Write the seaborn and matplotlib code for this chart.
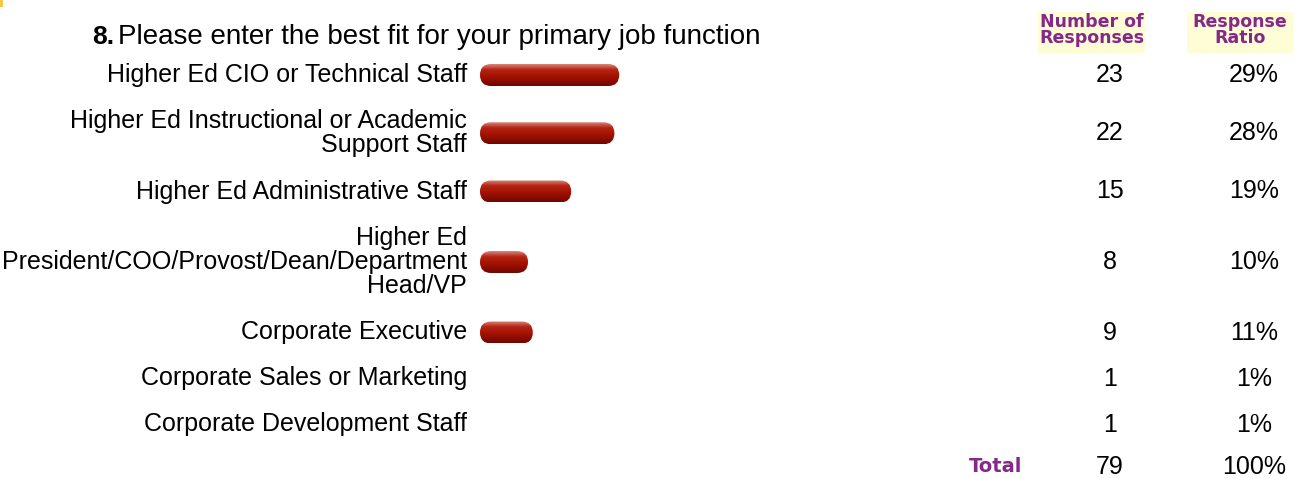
import numpy as np
import pandas as pd
import matplotlib
matplotlib.use('Agg')
import matplotlib.pyplot as plt
from matplotlib.patches import FancyBboxPatch
from matplotlib.colors import LinearSegmentedColormap
import seaborn as sns

# survey data
labels = ['Higher Ed CIO or Technical Staff',
          'Higher Ed Instructional or Academic\nSupport Staff',
          'Higher Ed Administrative Staff',
          'Higher Ed\nPresident/COO/Provost/Dean/Department\nHead/VP',
          'Corporate Executive',
          'Corporate Sales or Marketing',
          'Corporate Development Staff']
counts = [23, 22, 15, 8, 9, 1, 1]
ratios = [29, 28, 19, 10, 11, 1, 1]
total_count = 79
total_ratio = '100%'
question = 'Please enter the best fit for your primary job function'
qnum = '8.'

sns.set_theme(style='white')
plt.rcParams['font.family'] = ['Liberation Sans', 'DejaVu Sans']

W, H = 1301, 479
fig = plt.figure(figsize=(W / 100, H / 100), dpi=100)

# background axes in pixel units, for all the text
bg = fig.add_axes([0, 0, 1, 1])
bg.set_xlim(0, W)
bg.set_ylim(H, 0)
bg.axis('off')

# row layout: height depends on how many lines the label has
n_lines = [l.count('\n') + 1 for l in labels]
row_h = [21.5 + 24.5 * n for n in n_lines]
top = 52
ypos = []
acc = top
for h in row_h:
    ypos.append(acc + h / 2)
    acc += h
total_y = acc + 19

df = pd.DataFrame({'label': labels, 'ratio': ratios, 'y': ypos})

# bar axes: x in percent, y in pixels
px_per_pct = 4.8
x0, x1 = 480, 1010
ax = fig.add_axes([x0 / W, 0, (x1 - x0) / W, 1])
sns.barplot(data=df, x='ratio', y='y', orient='h', native_scale=True,
            errorbar=None, color='#a31405', ax=ax)
ax.axis('off')

grad = LinearSegmentedColormap.from_list(
    'barshade', [(0, '#d9867c'), (0.25, '#b52414'), (0.55, '#a51200'), (1, '#700700')])
bar_h = 22
r_px = 11
rs = r_px / px_per_pct
for p in list(ax.patches):
    w = p.get_width()
    yc = p.get_y() + p.get_height() / 2
    p.set_visible(False)
    if w * px_per_pct < bar_h:
        continue
    shape = FancyBboxPatch((0, yc - bar_h / 2), w, bar_h,
                           boxstyle=f'round,pad=0,rounding_size={rs}',
                           mutation_aspect=px_per_pct, fc='none', ec='none')
    ax.add_patch(shape)
    im = ax.imshow(np.linspace(0, 1, 64).reshape(-1, 1), cmap=grad, aspect='auto',
                   extent=(0, w, yc + bar_h / 2, yc - bar_h / 2), interpolation='bilinear')
    im.set_clip_path(shape)

ax.set_xlim(0, (x1 - x0) / px_per_pct)
ax.set_ylim(H, 0)

# small yellow mark in the corner
bg.add_patch(plt.Rectangle((0, 0), 3, 7, fc='#f2c94c', ec='none'))

# title
bg.text(92, 37, qnum, fontsize=19, fontweight='bold', ha='left', va='center', color='black')
bg.text(118, 37, question, fontsize=20, ha='left', va='center', color='black')

# header boxes
hdr_col = '#84288a'
for xl, xr, txt in [(1038, 1145, 'Number of\nResponses'), (1187, 1293, 'Response\nRatio')]:
    bg.add_patch(plt.Rectangle((xl, 12), xr - xl, 41, fc='#fffdd6', ec='none'))
    bg.text((xl + xr) / 2, 30, txt, fontsize=12.5, fontweight='bold', color=hdr_col,
            ha='center', va='center', family='DejaVu Sans', linespacing=0.9)

# rows
fs = 18
for lab, c, r, y in zip(labels, counts, ratios, ypos):
    bg.text(467, y, lab, fontsize=fs, ha='right', va='center', multialignment='right',
            linespacing=1.02, color='black')
    bg.text(1110, y, str(c), fontsize=fs, ha='center', va='center', color='black')
    bg.text(1254, y, f'{r}%', fontsize=fs, ha='center', va='center', color='black')

bg.text(996, total_y, 'Total', fontsize=14, fontweight='bold', color=hdr_col,
        ha='center', va='center', family='DejaVu Sans')
bg.text(1110, total_y, str(total_count), fontsize=fs, ha='center', va='center', color='black')
bg.text(1254, total_y, total_ratio, fontsize=fs, ha='center', va='center', color='black')

fig.savefig('out.png', dpi=100, facecolor='white')
